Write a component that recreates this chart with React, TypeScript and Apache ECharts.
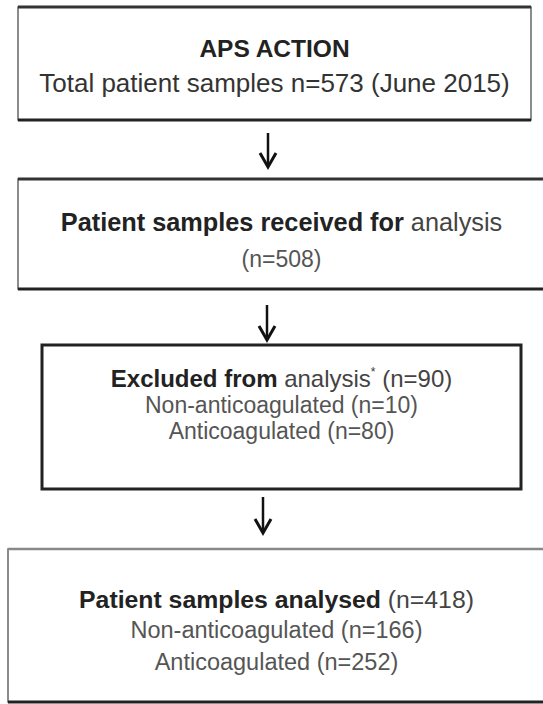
import React, { useEffect, useRef } from "react";
import * as echarts from "echarts";

// ---- data ----
const boxTitles = [
  "{b|APS ACTION}",
  "{b|Patient samples received for} {n|analysis}",
  "{b|Excluded from} {n|analysis}{s|*} {n|(n=90)}",
  "{b|Patient samples analysed} {n|(n=418)}",
];
const boxSubLines: string[][] = [
  ["Total patient samples n=573 (June 2015)"],
  ["(n=508)"],
  ["Non-anticoagulated (n=10)", "Anticoagulated (n=80)"],
  ["Non-anticoagulated (n=166)", "Anticoagulated (n=252)"],
];

// ---- layout (positions/styles) ----
const boxes = [
  { x: 18, y: 7, w: 513, h: 113, lines: [48, 83], t: 24.5, s: 26 },
  { x: 18, y: 179, w: 527, h: 110, lines: [222, 259], t: 25.3, s: 23 },
  { x: 42, y: 345, w: 479, h: 144, lines: [378, 404.5, 431], t: 24, s: 23 },
  { x: 8, y: 549, w: 537, h: 153, lines: [599, 630, 662], t: 24.8, s: 23.5 },
];
const arrows = [
  { x: 268, y1: 133, y2: 167 },
  { x: 267, y1: 305, y2: 340 },
  { x: 263, y1: 497, y2: 533 },
];

const FONT = "'Liberation Sans', Arial, sans-serif";

export default function App() {
  const ref = useRef<HTMLDivElement>(null);
  useEffect(() => {
    if (!ref.current) return;
    const chart = echarts.init(ref.current, undefined, { renderer: "svg" });
    const elements: any[] = [];
    boxes.forEach((bx, i) => {
      const cx = bx.x + bx.w / 2;
      const rich = {
        b: { fontFamily: FONT, fontSize: bx.t, lineHeight: bx.t, fontWeight: "bold", fill: "#222" },
        n: { fontFamily: FONT, fontSize: bx.t, lineHeight: bx.t, fill: "#444" },
        s: { fontFamily: FONT, fontSize: 12, lineHeight: bx.t, fill: "#333", verticalAlign: "top" },
      };
      elements.push({
        type: "rect",
        shape: { x: bx.x, y: bx.y, width: bx.w, height: bx.h },
        style: { fill: "#fff", stroke: i === 2 ? "#222" : "#666", lineWidth: i === 2 ? 3 : 1.5 },
      });
      if (i !== 2) {
        elements.push({
          type: "line",
          shape: { x1: bx.x, y1: bx.y + bx.h, x2: bx.x + bx.w, y2: bx.y + bx.h },
          style: { stroke: "#222", lineWidth: 3 },
        });
        elements.push({
          type: "line",
          shape: { x1: bx.x, y1: bx.y, x2: bx.x + bx.w, y2: bx.y },
          style: { stroke: i === 3 ? "#888" : "#333", lineWidth: i === 3 ? 2.5 : 3 },
        });
      }
      elements.push({
        type: "text",
        x: cx,
        y: bx.lines[0],
        style: {
          text: boxTitles[i],
          rich,
          align: "center",
          verticalAlign: "middle",
          fontFamily: FONT,
          fontSize: bx.t,
          lineHeight: bx.t,
        },
      });
      boxSubLines[i].forEach((t, j) => {
        elements.push({
          type: "text",
          x: cx,
          y: bx.lines[j + 1],
          style: {
            text: t,
            fill: i === 0 ? "#333" : "#555",
            fontFamily: FONT,
            fontSize: bx.s,
            lineHeight: bx.s,
            align: "center",
            verticalAlign: "middle",
          },
        });
      });
    });
    arrows.forEach((a) => {
      elements.push({
        type: "line",
        shape: { x1: a.x, y1: a.y1, x2: a.x, y2: a.y2 - 2 },
        style: { stroke: "#111", lineWidth: 2.5 },
      });
      elements.push({
        type: "polyline",
        shape: { points: [[a.x - 8, a.y2 - 14], [a.x, a.y2], [a.x + 8, a.y2 - 14]] },
        style: { stroke: "#111", lineWidth: 3, fill: "none" },
      });
    });
    chart.setOption({ animation: false, graphic: { elements } });
    return () => chart.dispose();
  }, []);
  return (
    <div
      ref={ref}
      style={{ position: "fixed", left: 0, top: 0, width: 543, height: 704, background: "#fff" }}
    />
  );
}
